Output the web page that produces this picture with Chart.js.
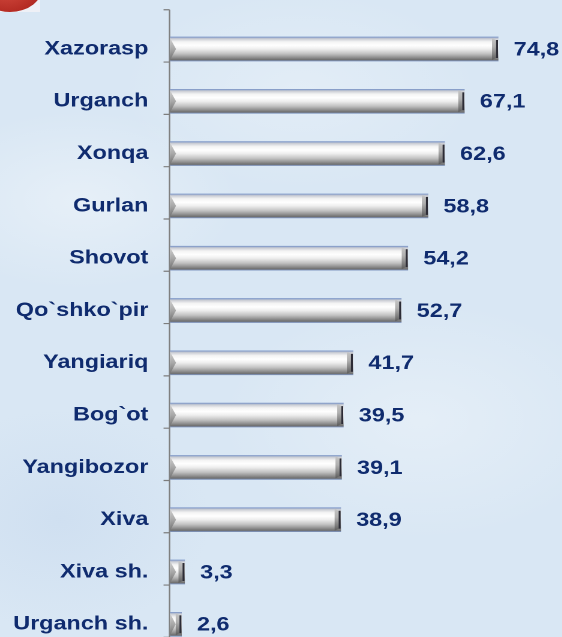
<!DOCTYPE html>
<html>
<head>
<meta charset="utf-8">
<script src="https://cdn.jsdelivr.net/npm/chart.js@4"></script>
<style>
  html, body { margin: 0; padding: 0; }
  body {
    width: 562px; height: 637px; overflow: hidden; position: relative;
    background-color: #d9e7f4;
    background-image:
      radial-gradient(ellipse 160px 90px at 80px 200px, rgba(255,255,255,0.35), rgba(255,255,255,0)),
      radial-gradient(ellipse 200px 120px at 420px 420px, rgba(255,255,255,0.3), rgba(255,255,255,0)),
      radial-gradient(ellipse 180px 100px at 300px 90px, rgba(255,255,255,0.25), rgba(255,255,255,0)),
      radial-gradient(ellipse 150px 110px at 60px 520px, rgba(190,210,235,0.35), rgba(190,210,235,0));
  }
  #blob { position: absolute; left: 0; top: 0; width: 40px; height: 12px; overflow: hidden; background: #eef0f6; }
  #blob div { position: absolute; left: -23px; top: -40px; width: 66px; height: 52px; border-radius: 50%;
    background: radial-gradient(ellipse at 45% 40%, #e0574a, #b52c24 70%, #9c2019); }
  #wrap { position: absolute; left: 0; top: 0; width: 468px; height: 660px; transform: scaleX(1.2); transform-origin: 0 0; }
</style>
</head>
<body>
<div id="blob"><div></div></div>
<div id="wrap"><canvas id="chart" width="468" height="660"></canvas></div>
<script>
// district names and values (percent)
const categories = ['Xazorasp', 'Urganch', 'Xonqa', 'Gurlan', 'Shovot', 'Qo`shko`pir', 'Yangiariq', 'Bog`ot', 'Yangibozor', 'Xiva', 'Xiva sh.', 'Urganch sh.'];
const values = [74.8, 67.1, 62.6, 58.8, 54.2, 52.7, 41.7, 39.5, 39.1, 38.9, 3.3, 2.6];

const textColor = '#0f2b6e';
const fontFamily = "'Liberation Sans', Arial, sans-serif";
const barSize = 24;

// grey metallic look for each bar
function barGradient(context) {
    const chart = context.chart;
    if (!chart.chartArea) return '#d0d0d0';
    const y = chart.scales.y.getPixelForValue(context.dataIndex);
    const g = chart.ctx.createLinearGradient(0, y - barSize / 2, 0, y + barSize / 2);
    g.addColorStop(0, '#7f98c8');
    g.addColorStop(0.07, '#c9ccd3');
    g.addColorStop(0.2, '#f4f4f4');
    g.addColorStop(0.35, '#ffffff');
    g.addColorStop(0.5, '#eeeeee');
    g.addColorStop(0.7, '#c2c2c2');
    g.addColorStop(0.86, '#8e8e8e');
    g.addColorStop(0.95, '#6e6e6e');
    g.addColorStop(1, '#8096c0');
    return g;
}

// vertical axis line with tick marks set between bars
const axisPlugin = {
    id: 'axisLine',
    beforeDatasetsDraw(chart) {
        const c = chart.ctx;
        const yScale = chart.scales.y;
        const band = (chart.chartArea.bottom - chart.chartArea.top) / categories.length;
        const x = chart.chartArea.left - 0.4;
        const top = yScale.getPixelForValue(0) - band * 0.75;
        c.save();
        c.strokeStyle = '#7d7d7d';
        c.lineWidth = 1.2;
        c.beginPath();
        c.moveTo(x, top);
        c.lineTo(x, chart.height);
        c.moveTo(x - 5, top);
        c.lineTo(x, top);
        categories.forEach((cat, i) => {
            const ty = yScale.getPixelForValue(i) + band / 4;
            c.moveTo(x - 5, ty);
            c.lineTo(x, ty);
        });
        c.stroke();
        c.restore();
    }
};

// bevelled ends of the bars and the value labels
const barEndsPlugin = {
    id: 'barEnds',
    afterDatasetsDraw(chart) {
        const c = chart.ctx;
        const meta = chart.getDatasetMeta(0);
        c.save();
        meta.data.forEach((bar, i) => {
            const { x, y, base, height } = bar;
            const top = y - height / 2;
            const bottom = y + height / 2;
            const w = Math.min(5, (x - base) / 2);

            // left end
            let g = c.createLinearGradient(0, top, 0, bottom);
            g.addColorStop(0, '#d4d4d4');
            g.addColorStop(0.5, '#a8a8a8');
            g.addColorStop(1, '#6a6a6a');
            c.fillStyle = g;
            c.beginPath();
            c.moveTo(base, top + 1);
            c.lineTo(base + w, y);
            c.lineTo(base, bottom - 1);
            c.closePath();
            c.fill();

            // right end
            g = c.createLinearGradient(0, top, 0, bottom);
            g.addColorStop(0, '#c8c8c8');
            g.addColorStop(0.4, '#b0b0b0');
            g.addColorStop(0.75, '#7c7c7c');
            g.addColorStop(1, '#555555');
            c.fillStyle = g;
            c.beginPath();
            c.moveTo(x - w, top + 1);
            c.lineTo(x, top + 4);
            c.lineTo(x, bottom - 4);
            c.lineTo(x - w, bottom - 1);
            c.closePath();
            c.fill();
            c.strokeStyle = '#2c2c36';
            c.lineWidth = 1.6;
            c.beginPath();
            c.moveTo(x - 0.8, top + 3);
            c.lineTo(x - 0.8, bottom - 3);
            c.stroke();

            // value label
            c.fillStyle = textColor;
            c.font = 'bold 19.5px ' + fontFamily;
            c.textAlign = 'left';
            c.textBaseline = 'middle';
            c.fillText(values[i].toFixed(1).replace('.', ','), x + 13, y + 1);
        });
        c.restore();
    }
};

const ctx = document.getElementById('chart').getContext('2d');
const chart = new Chart(ctx, {
    type: 'bar',
    data: {
        labels: categories,
        datasets: [{
            data: values,
            backgroundColor: barGradient,
            borderWidth: 0,
            barThickness: barSize
        }]
    },
    options: {
        indexAxis: 'y',
        responsive: false,
        devicePixelRatio: 2,
        animation: false,
        layout: { padding: { top: 22.85, bottom: 9.55, left: 0, right: 0 } },
        plugins: {
            legend: { display: false },
            tooltip: { enabled: false }
        },
        scales: {
            x: { display: false, min: 0, max: 89.3 },
            y: {
                grid: { display: false, drawTicks: false },
                border: { display: false },
                ticks: {
                    color: textColor,
                    padding: 18,
                    font: { family: fontFamily, size: 19.5, weight: 'bold' }
                },
                afterFit(scale) {
                    scale.width = 141.67;
                    // labels sit inside their bands, no extra room needed
                    scale.paddingTop = 0;
                    scale.paddingBottom = 0;
                }
            }
        }
    },
    plugins: [axisPlugin, barEndsPlugin]
});
</script>
</body>
</html>
